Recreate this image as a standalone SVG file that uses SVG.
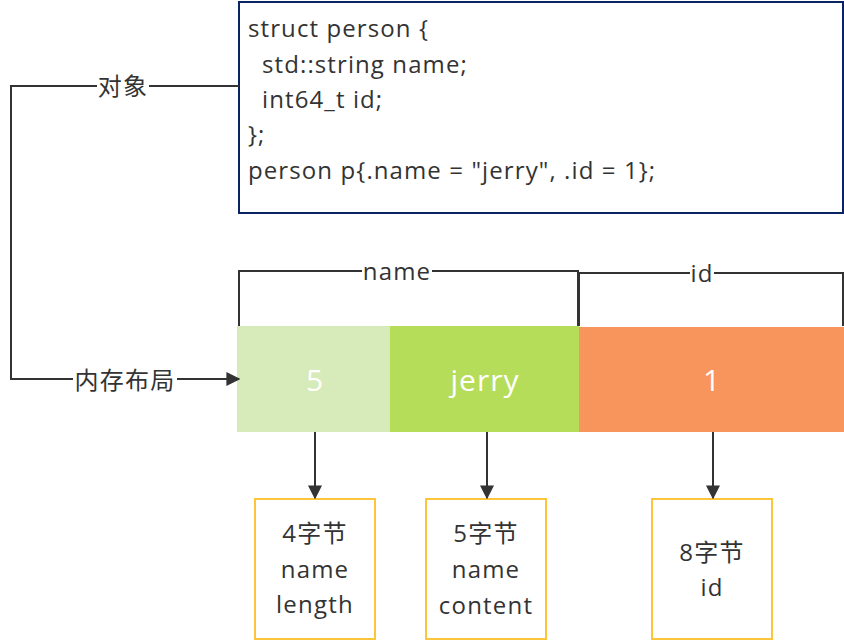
<svg xmlns="http://www.w3.org/2000/svg" width="844" height="642" viewBox="0 0 844 642">
<defs>
<style>
.t{font-family:"Open Sans","Noto Sans","Noto Sans CJK SC",sans-serif;fill:#333;}
.code{font-size:24px;letter-spacing:1.1px;}
.lbl{font-size:24px;letter-spacing:1.2px;text-anchor:middle;}
.cell{font-size:30px;fill:#fff;text-anchor:middle;letter-spacing:1px;font-family:"Open Sans","Noto Sans",sans-serif;}
.line{fill:none;stroke:#333;stroke-width:2;}
.box{fill:#fff;stroke:#fcc53a;stroke-width:2;}
</style>
<marker id="ah" viewBox="0 0 10 10" refX="9" refY="5" markerWidth="14" markerHeight="14" markerUnits="userSpaceOnUse" orient="auto">
<path d="M0,0 L10,5 L0,10 Z" fill="#333"/>
</marker>
</defs>
<rect width="844" height="642" fill="#fff"/>
<g id="code">
<rect x="239" y="2" width="604" height="211" fill="#fff" stroke="#0a2463" stroke-width="2"/>
<text class="t code" x="248" y="37">struct person {</text>
<text class="t code" x="262" y="73">std::string name;</text>
<text class="t code" x="262" y="108">int64_t id;</text>
<text class="t code" x="248" y="143">};</text>
<text class="t code" x="248" y="179">person p{.name = "jerry", .id = 1};</text>
</g>
<g id="cell-len">
<rect x="237" y="326" width="153" height="106" fill="#d7eab9"/>
<text class="cell" x="315" y="391">5</text>
</g>
<g id="cell-content">
<rect x="390" y="326" width="189" height="106" fill="#b5dd5a"/>
<text class="cell" x="485" y="391">jerry</text>
</g>
<g id="cell-id">
<rect x="579" y="327" width="265" height="105" fill="#f7955d"/>
<text class="cell" x="712" y="391">1</text>
</g>
<g id="box-len">
<rect class="box" x="255" y="499" width="120" height="140"/>
<text class="t lbl" x="315" y="542">4字节</text>
<text class="t lbl" x="315" y="578">name</text>
<text class="t lbl" x="315" y="613">length</text>
</g>
<g id="box-content">
<rect class="box" x="426" y="499" width="120" height="140"/>
<text class="t lbl" x="486" y="542">5字节</text>
<text class="t lbl" x="486" y="578">name</text>
<text class="t lbl" x="486" y="614">content</text>
</g>
<g id="box-id">
<rect class="box" x="652" y="499" width="120" height="140"/>
<text class="t lbl" x="712" y="561">8字节</text>
<text class="t lbl" x="712" y="596">id</text>
</g>
<g id="connectors">
<path class="line" d="M239,86 H11 V379 H239" marker-end="url(#ah)"/>
<rect x="97" y="72" width="52" height="28" fill="#fff"/>
<text class="t lbl" x="123" y="95">对象</text>
<rect x="73" y="366" width="104" height="28" fill="#fff"/>
<text class="t lbl" x="125" y="389">内存布局</text>
<path class="line" d="M239,326 V271 H578 V326"/>
<rect x="362" y="258" width="70" height="28" fill="#fff"/>
<text class="t lbl" x="397" y="280">name</text>
<path class="line" d="M579,326 V273 H843 V326"/>
<rect x="690" y="260" width="24" height="28" fill="#fff"/>
<text class="t lbl" x="702" y="282">id</text>
<path class="line" d="M315,432 V498" marker-end="url(#ah)"/>
<path class="line" d="M487,432 V498" marker-end="url(#ah)"/>
<path class="line" d="M713,432 V498" marker-end="url(#ah)"/>
</g>
</svg>
